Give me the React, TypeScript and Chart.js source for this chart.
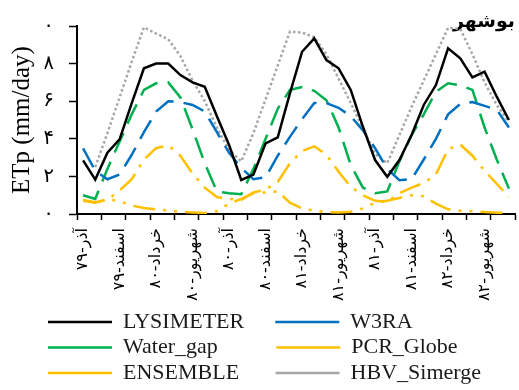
import React, { useEffect, useRef } from 'react';
import { Chart, registerables } from 'chart.js';

Chart.register(...registerables);

// month index (آذر ۷۹ .. آبان ۸۲)
const monthIndex = [0, 1, 2, 3, 4, 5, 6, 7, 8, 9, 10, 11, 12, 13, 14, 15, 16, 17, 18, 19, 20, 21, 22, 23, 24, 25, 26, 27, 28, 29, 30, 31, 32, 33, 34, 35];

const lysimeter = [2.85, 1.83, 3.26, 3.97, 5.9, 7.75, 8.0, 8.0, 7.39, 7.0, 6.77, 5.2, 3.67, 1.81, 2.1, 3.76, 4.08, 6.42, 8.63, 9.34, 8.19, 7.75, 6.6, 4.64, 2.87, 1.98, 2.87, 4.2, 5.8, 6.86, 8.81, 8.28, 7.27, 7.57, 6.24, 5.0];
const w3ra = [3.49, 2.3, 1.85, 2.1, 3.15, 4.35, 5.45, 6.0, 5.95, 5.8, 5.45, 4.35, 3.25, 2.45, 1.85, 1.95, 3.1, 4.1, 5.05, 5.9, 5.9, 5.65, 5.2, 4.45, 3.5, 2.4, 1.8, 1.85, 2.9, 4.0, 5.3, 5.85, 5.95, 5.75, 5.55, 4.6];
const waterGap = [1.0, 0.8, 2.4, 3.85, 5.3, 6.6, 6.95, 7.0, 6.2, 4.5, 2.7, 1.2, 1.1, 1.05, 2.4, 4.0, 5.6, 6.6, 6.75, 6.55, 6.05, 4.6, 2.6, 1.4, 1.1, 1.2, 2.8, 4.2, 5.3, 6.5, 6.95, 6.85, 6.6, 4.6, 2.9, 1.35];
const pcrGlobe = [0.74, 0.62, 0.75, 1.25, 1.85, 2.9, 3.5, 3.65, 3.1, 2.15, 1.4, 0.9, 0.8, 0.75, 1.15, 1.3, 1.7, 2.7, 3.35, 3.6, 3.15, 2.25, 1.45, 1.0, 0.7, 0.65, 1.1, 1.4, 1.65, 2.1, 3.45, 3.7, 3.1, 2.3, 1.6, 0.9];
const ensemble = [0.7, 0.6, 0.8, 0.68, 0.45, 0.32, 0.25, 0.18, 0.12, 0.08, 0.05, 0.15, 0.55, 0.8, 1.1, 1.15, 1.2, 0.6, 0.3, 0.18, 0.1, 0.08, 0.12, 0.3, 0.6, 0.7, 0.85, 1.0, 0.95, 0.55, 0.25, 0.17, 0.15, 0.1, 0.07, 0.05];
const hbvSimerge = [null, 2.5, 4.3, 6.2, 8.1, 9.93, 9.6, 9.3, 8.4, 7.1, 6.0, 4.6, 3.4, 2.8, 4.3, 6.1, 7.9, 9.7, 9.65, 9.4, 8.5, 7.2, 5.9, 4.55, 3.2, 2.7, 4.2, 5.7, 7.1, 8.5, 9.9, 9.85, 8.5, 7.0, 5.8, 4.9];

const seriesNames = ['LYSIMETER', 'W3RA', 'Water_gap', 'PCR_Globe', 'ENSEMBLE', 'HBV_Simerge'];

const xLabelPositions = [0, 3, 6, 9, 12, 15, 18, 21, 24, 27, 30, 33];
const xTickLabels = ['آذر-۷۹', 'اسفند-۷۹', 'خرداد-۸۰', 'شهریور-۸۰', 'آذر-۸۰', 'اسفند-۸۰', 'خرداد-۸۱', 'شهریور-۸۱', 'آذر-۸۱', 'اسفند-۸۱', 'خرداد-۸۲', 'شهریور-۸۲'];
const xTickMarkPositions = [-0.5, 1.5, 3.5, 5.5, 7.5, 9.5, 11.5, 13.5, 15.5, 17.5, 19.5, 21.5, 23.5, 25.5, 27.5, 29.5, 31.5, 33.5, 35.5];
const yTickValues = [0, 2, 4, 6, 8, 10];
const yTickLabels = ['۰', '۲', '۴', '۶', '۸', '۱۰'];

const chartTitle = 'بوشهر';
const yAxisTitle = 'ETp (mm/day)';

const LEGEND_LINE = 64;
const LEGEND_COL1_TEXT = 148;

export default function App() {
  const ref = useRef<HTMLCanvasElement>(null);

  useEffect(() => {
    const canvas = ref.current;
    if (!canvas) return;

    const mk = (label: string, values: (number | null)[], color: string, dash: number[], width = 2.5) => ({
      label,
      data: values.map((v, i) => ({ x: monthIndex[i], y: v })),
      borderColor: color,
      backgroundColor: color,
      borderWidth: width,
      borderDash: dash,
      borderCapStyle: 'butt' as const,
      pointRadius: 0,
      pointHoverRadius: 0,
      tension: 0,
      fill: false,
      xAxisID: 'x',
      yAxisID: 'y',
    });

    const chart = new Chart(canvas, {
      type: 'line',
      data: {
        datasets: [
          mk(seriesNames[0], lysimeter, '#000000', []),
          mk(seriesNames[1], w3ra, '#0070C0', [21.5, 10]),
          mk(seriesNames[2], waterGap, '#00B050', [21.5, 10]),
          mk(seriesNames[3], pcrGlobe, '#FFC000', [22, 8, 3, 8]),
          mk(seriesNames[4], ensemble, '#FFC000', [22, 8, 3, 8, 3, 8]),
          mk(seriesNames[5], hbvSimerge, '#A6A6A6', [2.5, 2.5]),
        ] as any,
      },
      options: {
        animation: false,
        responsive: false,
        maintainAspectRatio: false,
        layout: { padding: { left: 44.5, right: 4, top: 0, bottom: -4 } },
        plugins: {
          tooltip: { enabled: false },
          title: {
            display: true,
            text: chartTitle,
            align: 'end',
            color: '#000',
            font: { family: 'DejaVu Sans', size: 19, weight: 'bold', lineHeight: 1.2 },
            padding: { top: 10.6, bottom: -7.4 },
          },
          legend: {
            position: 'bottom',
            align: 'start',
            labels: {
              usePointStyle: true,
              pointStyle: 'line',
              pointStyleWidth: LEGEND_LINE,
              padding: 3.5,
              color: '#1a1a1a',
              font: { family: 'Liberation Serif', size: 22 },
              generateLabels: (c: any) => {
                const items = (Chart.defaults.plugins.legend.labels as any).generateLabels(c);
                const ctx = c.ctx as CanvasRenderingContext2D;
                ctx.save();
                ctx.font = '22px "Liberation Serif"';
                items.forEach((it: any, i: number) => {
                  if (i % 2 === 0) {
                    let t = it.text;
                    let guard = 0;
                    while (ctx.measureText(t + ' ').width <= LEGEND_COL1_TEXT + 2.75 && guard < 60) {
                      t += ' ';
                      guard++;
                    }
                    it.text = t;
                  }
                  const dash: number[] = it.lineDash || [];
                  if (dash.length) {
                    const period = dash.reduce((a: number, b: number) => a + b, 0);
                    it.lineDashOffset = (((dash[0] - LEGEND_LINE) % period) + period) % period;
                  }
                });
                ctx.restore();
                return items;
              },
            },
          },
        },
        scales: {
          x: {
            type: 'linear',
            position: 'bottom',
            weight: 1,
            min: -0.5,
            max: 35.5,
            afterBuildTicks: (s: any) => {
              s.ticks = xLabelPositions.map((v) => ({ value: v }));
            },
            afterFit: (s: any) => {
              s.height = 87.5;
            },
            grid: { display: false, drawTicks: false },
            border: { display: false },
            ticks: {
              autoSkip: false,
              minRotation: 90,
              maxRotation: 90,
              padding: 8,
              color: '#000',
              font: { family: 'DejaVu Sans', size: 16, lineHeight: 1 },
              callback: (v: any) => {
                const k = xLabelPositions.indexOf(Number(v));
                return k >= 0 ? xTickLabels[k] : '';
              },
            },
          },
          xTicks: {
            type: 'linear',
            position: 'bottom',
            weight: 0,
            min: -0.5,
            max: 35.5,
            afterBuildTicks: (s: any) => {
              s.ticks = xTickMarkPositions.map((v) => ({ value: v }));
            },
            ticks: { display: false },
            grid: {
              display: true,
              drawOnChartArea: false,
              drawTicks: true,
              tickLength: 6,
              color: '#000',
              tickColor: '#000',
              tickWidth: 1.5,
            },
            border: { display: true, color: '#000', width: 2 },
          },
          y: {
            type: 'linear',
            position: 'left',
            min: 0,
            max: 10,
            afterBuildTicks: (s: any) => {
              s.ticks = yTickValues.map((v) => ({ value: v }));
            },
            afterFit: (s: any) => {
              s.width = 32.5;
            },
            ticks: {
              padding: 15,
              color: '#000',
              font: { family: 'DejaVu Sans', size: 20, lineHeight: 1 },
              callback: (v: any) => {
                const k = yTickValues.indexOf(Number(v));
                return k >= 0 ? yTickLabels[k] : '';
              },
            },
            grid: {
              drawOnChartArea: false,
              drawTicks: true,
              tickLength: 8,
              color: '#000',
              tickColor: '#000',
              tickWidth: 1.5,
            },
            border: { color: '#000', width: 2 },
            title: {
              display: true,
              text: yAxisTitle,
              color: '#000',
              font: { family: 'Liberation Serif', size: 25 },
              padding: { top: -37.5, bottom: 0 },
            },
          },
        } as any,
      } as any,
    });

    return () => chart.destroy();
  }, []);

  return (
    <div style={{ position: 'absolute', left: 0, top: 0, width: 519, height: 390 }}>
      <canvas ref={ref} width={519} height={390} style={{ width: '519px', height: '390px', display: 'block' }} />
    </div>
  );
}
